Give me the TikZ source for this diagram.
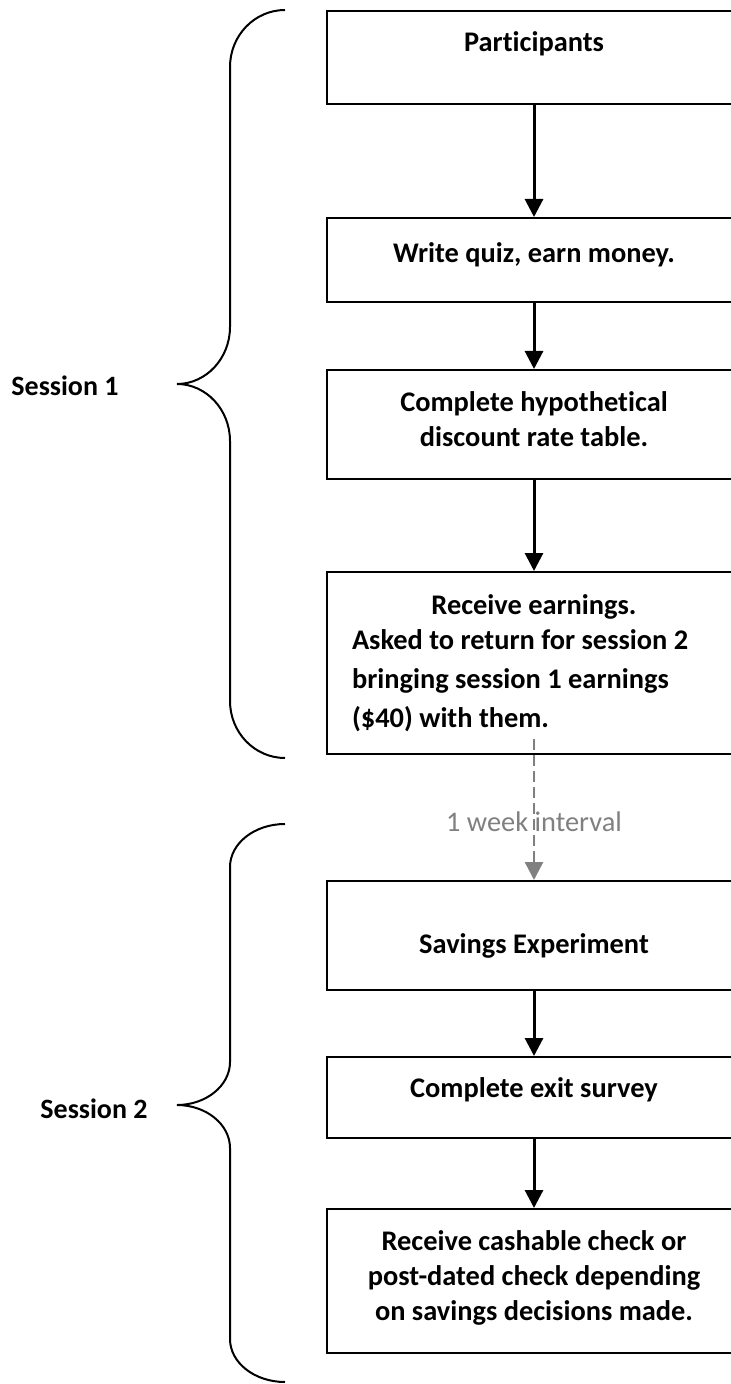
\documentclass[tikz,border=0pt]{standalone}
\usepackage{fontspec}
\setmainfont{Carlito}[Ligatures=NoCommon]
\usepackage{xcolor}
\usetikzlibrary{arrows.meta}

\definecolor{intervalgray}{RGB}{128,128,128}

\tikzset{
  stepbox/.style={draw, line width=1pt, minimum width=207pt, inner sep=4pt,
    font=\fontsize{14.2}{17.5}\selectfont\bfseries, align=center},
  flow/.style={line width=1.5pt, -{Triangle[width=9pt,length=9pt]}},
  gapflow/.style={flow, line width=1.25pt, intervalgray, dash pattern=on 5.5pt off 2.5pt},
  sessionlabel/.style={font=\fontsize{14}{17.5}\selectfont\bfseries},
  sessionbrace/.style={line width=1pt}
}

\begin{document}
\begin{tikzpicture}[x=0.5pt, y=-0.5pt]
\useasboundingbox (0,0) rectangle (730,1384);

\node[stepbox, minimum height=46.5pt, text height=8pt, text depth=13.5pt] (part) at (534,57.5) {Participants};
\node[stepbox, minimum height=42pt, text height=8pt, text depth=5pt] (quiz) at (534,260) {Write quiz, earn money.};
\node[stepbox, minimum height=54.5pt] (table) at (534,424.5) {Complete hypothetical\\discount rate table.\\[-12pt]};
\node[stepbox, minimum height=91pt, text width=182pt, align=flush left] (earn) at (534,663)
  {\hfill Receive earnings.\hfill\null\\ Asked to return for session 2\\[2pt] bringing session 1 earnings\\[2pt] (\$40) with them.};
\node[stepbox, minimum height=54.5pt, text height=20pt, text depth=2.5pt] (save) at (534,935.5) {Savings Experiment};
\node[stepbox, minimum height=40.5pt, text height=8pt, text depth=8pt] (survey) at (534,1097.5) {Complete exit survey};
\node[stepbox, minimum height=72pt] (check) at (534,1281)
  {Receive cashable check or\\post-dated check depending\\on savings decisions made.\\[-12pt]};

\draw[flow] (part) -- (quiz);
\draw[flow] (quiz) -- (table);
\draw[flow] (table) -- (earn);
\draw[gapflow, shorten <=-8pt] (earn) -- node[pos=0.53, font=\fontsize{14.2}{17.5}\selectfont] {1 week interval} (save);
\draw[flow] (save) -- (survey);
\draw[flow] (survey) -- (check);

\node[sessionlabel] (s1) at (65,386) {Session 1};
\node[sessionlabel] (s2) at (94,1109) {Session 2};

\draw[sessionbrace] (285,10) .. controls (254.6,10) and (230,35.5) .. (230,67)
  -- (230,327) .. controls (230,358.5) and (206,384) .. (177,384)
  .. controls (206,384) and (230,409.5) .. (230,441)
  -- (230,701) .. controls (230,732.5) and (254.6,758) .. (285,758);
\draw[sessionbrace] (285,824) .. controls (254.6,824) and (230,843.3) .. (230,867)
  -- (230,1062) .. controls (230,1085.7) and (206,1105) .. (177,1105)
  .. controls (206,1105) and (230,1124.3) .. (230,1148)
  -- (230,1339) .. controls (230,1362.7) and (254.6,1382) .. (285,1382);
\end{tikzpicture}
\end{document}
